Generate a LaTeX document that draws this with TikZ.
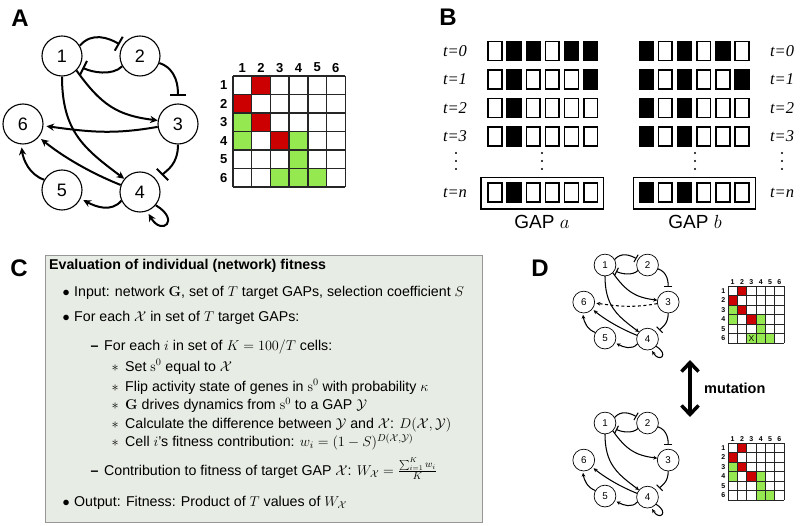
\RequirePackage{fix-cm}
\documentclass[tikz,border=0pt]{standalone}
\usepackage[no-math]{fontspec}
\setmainfont{Liberation Sans}
\newfontfamily\tms{Liberation Serif}
\usetikzlibrary{arrows.meta}
\definecolor{gred}{RGB}{204,0,0}
\definecolor{ggreen}{RGB}{150,232,80}
\definecolor{boxfill}{RGB}{231,236,228}
\definecolor{boxdraw}{RGB}{150,150,150}
\colorlet{gridc}{black!85}
\colorlet{cell0}{white}
\colorlet{cell1}{black}
\newcommand\fs[1]{\fontsize{#1}{#1}\selectfont}
\tikzset{
  gn/.style={circle, draw, fill=white, minimum size=40pt, inner sep=0pt, font=\fs{18}},
  act/.style={-{Stealth[length=0pt 3.8, width=0pt 3.6]}},
  inh/.style={-{Bar[width=0pt 8]}},
  plabel/.style={font=\bfseries\fs{24}, inner sep=0pt},
  tlab/.style={font=\tms\itshape\fs{16.5}, inner sep=0pt},
  ctext/.style={font=\fs{14.2}, inner sep=0pt, anchor=base west},
  ctitle/.style={font=\bfseries\fs{14.2}, inner sep=0pt, anchor=base west},
  gapsq/.style={draw=black, line width=1.6pt},
}
% gene network: prefix, xshift, yshift, scale, edge lw, circle lw, 3->6 (0 none,1 solid,2 dashed)
\newcommand\gnet[7]{%
\begin{scope}[shift={(#2,#3)}, scale=#4, transform shape, line width=#5, nodes={line width=#6}]
  \node[gn] (#1n1) at (62,56) {1};
  \node[gn] (#1n2) at (140,56) {2};
  \node[gn] (#1n3) at (178,124) {3};
  \node[gn] (#1n4) at (140,192) {4};
  \node[gn] (#1n5) at (62,190) {5};
  \node[gn] (#1n6) at (23,124) {6};
  \draw[inh, shorten >=#4*3pt] (#1n1.30) .. controls +(12,-14) and +(-14,-8) .. (#1n2.150);
  \draw[inh, shorten >=#4*3pt] (#1n2.210) .. controls +(-10,10) and +(12,6) .. (#1n1.-30);
  \draw[inh, shorten >=#4*7pt] (#1n2.-20) .. controls +(18,6) and +(0,-16) .. (#1n3.north);
  \draw[act] (#1n1.-45) .. controls +(25,35) and +(-40,-5) .. (#1n3.170);
  \draw[act] (#1n1.south) .. controls +(0,55) and +(-40,-30) .. (#1n4.140);
  \ifcase#7\or
    \draw[act, shorten >=#4*3pt] (#1n3.188) .. controls +(-45,8) and +(45,6) .. (#1n6.-5);
  \or
    \draw[act, shorten >=#4*3pt, dash pattern=on 3pt off 2.5pt] (#1n3.188) .. controls +(-45,8) and +(45,6) .. (#1n6.-5);
  \fi
  \draw[act, shorten >=#4*3pt] (#1n4.160) .. controls +(-30,-12) and +(25,20) .. (#1n6.-40);
  \draw[act, shorten >=#4*3pt] (#1n5.150) .. controls +(-15,-5) and +(2,15) .. (#1n6.-95);
  \draw[inh, shorten >=#4*7pt] (#1n3.south) .. controls +(0,20) and +(10,-10) .. (#1n4.35);
  \draw[act, shorten >=#4*3pt] (#1n4.205) .. controls +(-10,12) and +(15,8) .. (#1n5.-25);
  \draw[act, shorten >=#4*3pt] (#1n4.-40) .. controls +(25,15) and +(15,25) .. (#1n4.-70);
\end{scope}}
% matrix: prefix, x0, y0, cw, ch, font size, lw, green list
\newcommand\gmat[8]{%
  \foreach \c/\r in {2/1,1/2,2/3,3/4}
    \fill[gred] ({#2+(\c-1)*#4},{#3+(\r-1)*#5}) rectangle ++(#4,#5);
  \foreach \c/\r in {#8}
    \fill[ggreen] ({#2+(\c-1)*#4},{#3+(\r-1)*#5}) rectangle ++(#4,#5);
  \foreach \k in {0,...,6} {
    \draw[line width=#7, draw=gridc] ({#2+\k*#4},#3) -- ++(0,6*#5);
    \draw[line width=#7, draw=gridc] (#2,{#3+\k*#5}) -- ++(6*#4,0);
  }
  \foreach \k in {1,...,6} {
    \node[font=\bfseries\fs{#6}, inner sep=0pt] (#1c\k) at ({#2+(\k-0.5)*#4},{#3-0.45*#4}) {\k};
    \node[font=\bfseries\fs{#6}, inner sep=0pt] (#1r\k) at ({#2-0.5*#4},{#3+(\k-0.5)*#5}) {\k};
  }
}
% GAP row: x0, ytop, pattern macro
\newcommand\gaprow[3]{%
  \foreach \b [count=\k from 0] in #3
    \filldraw[gapsq, fill=cell\b] ({#1+\k*19.15},#2) rectangle ++(13.8,19);
}
\begin{document}
\begin{tikzpicture}[x=1pt,y=-1pt]
\useasboundingbox (0,0) rectangle (800,526);
% ---------- A ----------
\node[plabel] (labA) at (20,18) {A};
\gnet{a}{0}{0}{1}{2pt}{1.1pt}{1}
\gmat{ma}{233}{76}{18.7}{18.5}{13}{1.4pt}{1/3,1/4,4/4,4/5,3/6,4/6,5/6}
% ---------- B ----------
\node[plabel] (labB) at (448,17) {B};
\foreach \y/\pa/\pb [count=\i] in {41.5/{0,1,1,0,1,1}/{1,0,1,0,1,0},70/{0,1,0,0,0,1}/{1,0,1,0,0,1},98.5/{0,1,0,0,0,0}/{1,0,1,0,0,0},127/{0,1,0,0,0,0}/{1,0,1,0,0,0},183/{0,1,0,0,0,0}/{1,0,1,0,0,0}} {
  \gaprow{488}{\y}{\pa}
  \gaprow{639.3}{\y}{\pb}
}
\draw[line width=1.4pt] (481,177.5) rectangle (603.5,209);
\draw[line width=1.4pt] (633.3,177.5) rectangle (755.7,209);
\foreach \y/\t [count=\i] in {51/0,79.5/1,108/2,136.5/3,192.5/n} {
  \node[tlab] (tl\i) at (455,\y) {t=\t};
  \node[tlab] (tr\i) at (782,\y) {t=\t};
}
\foreach \x in {456,542,695,782}
  \foreach \y in {153,161,169}
    \fill (\x,\y) circle (1.1);
\node[font=\fs{19}, inner sep=0pt] (gapa) at (542,222) {GAP $a$};
\node[font=\fs{19}, inner sep=0pt] (gapb) at (695,222) {GAP $b$};
% ---------- C ----------
\node[plabel] (labC) at (19,268) {C};
\draw[fill=boxfill, draw=boxdraw, line width=1pt] (45,256) rectangle (482,522);
\node[ctitle] (c0) at (49,270) {Evaluation of individual (network) fitness};
\node[ctext] (c1b) at (62.5,297) {$\bullet$};
\node[ctext] (c1) at (74,297) {Input: network $\mathbf{G}$, set of $T$ target GAPs, selection coefficient $S$};
\node[ctext] (c2b) at (62.5,322) {$\bullet$};
\node[ctext] (c2) at (74,322) {For each $\mathcal{X}$ in set of $T$ target GAPs:};
\node[ctext] (c3b) at (90.5,351) {\textbf{--}};
\node[ctext] (c3) at (104,351) {For each $i$ in set of $K=100/T$ cells:};
\node[ctext] (c4b) at (111.5,371) {$\ast$};
\node[ctext] (c4) at (125,371) {Set $\mathrm{s}^0$ equal to $\mathcal{X}$};
\node[ctext] (c5b) at (111.5,391) {$\ast$};
\node[ctext] (c5) at (125,391) {Flip activity state of genes in $\mathrm{s}^0$ with probability $\kappa$};
\node[ctext] (c6b) at (111.5,409.5) {$\ast$};
\node[ctext] (c6) at (125,409.5) {$\mathbf{G}$ drives dynamics from $\mathrm{s}^0$ to a GAP $\mathcal{Y}$};
\node[ctext] (c7b) at (111.5,428) {$\ast$};
\node[ctext] (c7) at (125,428) {Calculate the difference between $\mathcal{Y}$ and $\mathcal{X}$: $D(\mathcal{X},\mathcal{Y})$};
\node[ctext] (c8b) at (111.5,446.5) {$\ast$};
\node[ctext] (c8) at (125,446.5) {Cell $i$'s fitness contribution: $w_i=(1-S)^{D(\mathcal{X},\mathcal{Y})}$};
\node[ctext] (c9b) at (90.5,475) {\textbf{--}};
\node[ctext] (c9) at (104,475) {Contribution to fitness of target GAP $\mathcal{X}$: $W_{\mathcal{X}}=\frac{\sum_{i=1}^{K} w_i}{K}$};
\node[ctext] (c10b) at (62.5,506) {$\bullet$};
\node[ctext] (c10) at (74,506) {Output: Fitness: Product of $T$ values of $W_{\mathcal{X}}$};
% ---------- D ----------
\node[plabel] (labD) at (540,268) {D};
\gnet{t}{571.2}{234.5}{0.545}{1.05pt}{0.7pt}{2}
\gnet{b}{571.2}{392.5}{0.545}{1.05pt}{0.7pt}{0}
\gmat{mt}{728}{286}{9.35}{9.5}{7}{0.7pt}{1/3,1/4,4/4,4/5,3/6,4/6,5/6}
\node[font=\fs{8.5}, inner sep=0pt] (xmark) at (751.4,338.3) {X};
\gmat{mb}{728}{443}{9.35}{9.5}{7}{0.7pt}{1/3,1/4,4/4,4/5,4/6,5/6}
\coordinate (mtop) at (690,360);
\coordinate (mbot) at (690,417);
\draw[line width=3.5pt, {Straight Barb[length=9pt,width=17pt]}-{Straight Barb[length=9pt,width=17pt]}] (mtop) -- (mbot);
\node[font=\bfseries\fs{14.5}, inner sep=0pt, anchor=west] (mut) at (704,388) {mutation};
\end{tikzpicture}
\end{document}
